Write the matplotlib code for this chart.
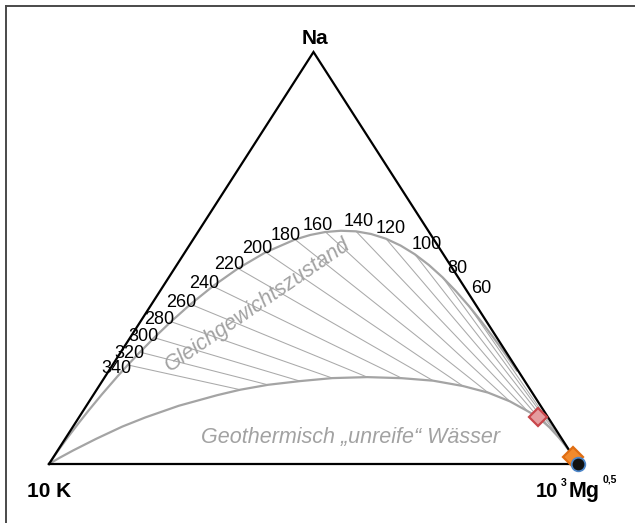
import numpy as np
import matplotlib
matplotlib.use("Agg")
import matplotlib.pyplot as plt
from matplotlib.lines import Line2D

# Na-K-Mg ternary (Giggenbach) diagram: Na/1000 - K/100 - sqrt(Mg)
# Compositions are given in percent of (Na, 10 K, 1000 Mg^0.5)

# full equilibrium line ("Gleichgewichtszustand")
FULL_T = [20, 30, 40, 50, 60, 70, 80, 90, 100, 110, 120, 130, 140, 150, 160, 170,
          180, 200, 220, 240, 260, 280, 300, 320, 340, 360, 400, 450, 500, 600, 800, 1200]
FULL_NA = [22.74, 26.61, 30.56, 34.50, 38.34, 41.93, 45.31, 48.30, 50.90, 53.01, 54.69,
           55.82, 56.47, 56.61, 56.32, 55.59, 54.49, 51.39, 47.46, 43.15, 38.78, 34.55,
           30.66, 27.15, 24.04, 21.30, 16.85, 12.81, 9.98, 6.48, 3.39, 1.54]
FULL_K = [0.23, 0.39, 0.63, 0.97, 1.45, 2.10, 2.95, 4.04, 5.39, 7.02, 8.96, 11.19,
          13.72, 16.52, 19.57, 22.82, 26.24, 33.35, 40.53, 47.45, 53.86, 59.67, 64.78,
          69.23, 73.08, 76.38, 81.61, 86.22, 89.39, 93.21, 96.50, 98.43]
FULL_MG = [77.03, 73.00, 68.81, 64.53, 60.21, 55.97, 51.74, 47.66, 43.71, 39.96, 36.36,
           32.99, 29.81, 26.87, 24.11, 21.59, 19.27, 15.26, 12.00, 9.40, 7.36, 5.78,
           4.56, 3.61, 2.88, 2.32, 1.54, 0.97, 0.64, 0.31, 0.11, 0.03]

# lower boundary of the immature waters, one point per isotherm
PART_T = [20, 40, 60, 80, 100, 120, 140, 160, 180, 200, 220, 240, 260, 280, 300, 320,
          340, 360, 400, 450, 500, 600, 800, 1200]
PART_NA = [2.18, 3.16, 4.61, 6.55, 8.88, 11.36, 12.86, 15.22, 17.33, 18.93, 20.22, 20.83,
           21.09, 20.85, 20.12, 19.22, 18.03, 16.70, 14.13, 11.31, 9.10, 6.12, 3.30, 1.50]
PART_K = [0.02, 0.06, 0.17, 0.43, 0.94, 1.86, 3.13, 5.29, 8.34, 12.29, 17.27, 22.90,
          29.30, 36.00, 42.50, 49.01, 54.83, 59.87, 68.41, 76.12, 81.56, 88.01, 93.77, 97.26]
PART_MG = [97.80, 96.78, 95.22, 93.02, 90.18, 86.78, 84.01, 79.49, 74.33, 68.78, 62.51,
           56.27, 49.61, 43.15, 37.38, 31.77, 27.14, 23.43, 17.46, 12.57, 9.34, 5.87,
           2.93, 1.24]

# labelled isotherms (deg C)
ISO_T = [60, 80, 100, 120, 140, 160, 180, 200, 220, 240, 260, 280, 300, 320, 340]

# water samples (Na, 10K, 1000 sqrt(Mg) in percent)
SAMPLE_NA = [11.4, 1.8, 0.0]
SAMPLE_K = [1.8, 0.0, 0.0]
SAMPLE_MG = [86.8, 98.2, 100.0]

W, H = 635, 523
fig = plt.figure(figsize=(W / 100, H / 100), dpi=100)
fig.patch.set_facecolor("white")
ax = fig.add_axes([0, 0, 1, 1])
ax.axis("off")
# K vertex at pixel (49, 464), Mg at (578, 464), Na apex at (313.5, 52)
ax.set_xlim(-49 / 529, (W - 49) / 529)
ax.set_ylim(-(H - 464) / 412, 464 / 412)

plt.rcParams["font.family"] = ["Liberation Sans", "DejaVu Sans"]


def tern(na, k, mg):
    na = np.asarray(na, float)
    k = np.asarray(k, float)
    mg = np.asarray(mg, float)
    s = na + k + mg
    return (mg + na / 2) / s, na / s


def fxy(px, py):
    return px / W, 1 - py / H


CURVE = "#a4a4a4"
ISO = "#a9a9a9"
TXT_GREY = "#a2a2a2"

# isotherms between the two curves
full_idx = {t: i for i, t in enumerate(FULL_T)}
part_idx = {t: i for i, t in enumerate(PART_T)}
for t in ISO_T:
    i, j = full_idx[t], part_idx[t]
    xs, ys = tern([FULL_NA[i], PART_NA[j]], [FULL_K[i], PART_K[j]], [FULL_MG[i], PART_MG[j]])
    ax.plot(xs, ys, color=ISO, lw=0.75, zorder=2, solid_capstyle="butt")

# full equilibrium curve, closed to the K corner
fx, fy = tern(FULL_NA + [0], FULL_K + [100], FULL_MG + [0])
ax.plot(fx, fy, color=CURVE, lw=1.6, zorder=3, solid_joinstyle="round")

# immature-water boundary from Mg corner to K corner
px_, py_ = tern([0] + PART_NA + [0], [0] + PART_K + [100], [100] + PART_MG + [0])
ax.plot(px_, py_, color=CURVE, lw=1.6, zorder=3, solid_joinstyle="round")

# triangle
tx, ty = tern([0, 0, 100, 0], [100, 0, 0, 100], [0, 100, 0, 0])
ax.plot(tx, ty, color="black", lw=1.6, zorder=4, solid_joinstyle="miter")

# isotherm labels: (ha, dx, dy) offsets in pixels from the curve point
LABEL_POS = {
    340: ("right", 4, -8), 320: ("right", 5, -6), 300: ("right", 4, -3.5),
    280: ("right", 3, -2), 260: ("right", 6, -2.5), 240: ("right", 6, -2),
    220: ("right", 6, -0.5), 200: ("right", 7, -1), 180: ("right", 6, 0),
    160: ("right", 7, 1.5), 140: ("center", 2.5, 5.5), 120: ("center", 4.5, 5.5),
    100: ("center", 12, 5.5), 80: ("center", 15, 4.5), 60: ("center", 12, 13.5),
}
for t in ISO_T:
    i = full_idx[t]
    x, y = tern(FULL_NA[i], FULL_K[i], FULL_MG[i])
    ha, dx, dy = LABEL_POS[t]
    ax.annotate(str(t), xy=(x, y), xytext=(dx, dy), textcoords="offset pixels",
                ha=ha, va="baseline", fontsize=13, color="black", zorder=6)

# samples
sx, sy = tern(SAMPLE_NA, SAMPLE_K, SAMPLE_MG)
ax.plot(sx[0], sy[0], marker="D", ms=9.6, mfc="#e59c9f", mec="#c9464b", mew=1.6,
        ls="none", zorder=7)
ax.plot(sx[1], sy[1], marker="D", ms=10.2, mfc="#f28a2c", mec="#e06d12", mew=1.6,
        ls="none", zorder=7)
ax.plot(sx[2], sy[2], marker="o", ms=9.8, mfc="#111111", mec="#4d86c8", mew=1.3,
        ls="none", zorder=8)

# curve names
fig.text(*fxy(258, 305), "Gleichgewichtszustand", rotation=34.5, rotation_mode="anchor",
         ha="center", va="center", fontsize=15.5, style="italic", color=TXT_GREY)
fig.text(*fxy(350.5, 443.5), "Geothermisch \u201eunreife\u201c W\u00e4sser", ha="center",
         va="baseline", fontsize=15.5, style="italic", color=TXT_GREY)

# corner labels
fig.text(*fxy(315, 43.5), "Na", ha="center", va="baseline", fontsize=15, weight="bold")
fig.text(*fxy(49.5, 497), "10 K", ha="center", va="baseline", fontsize=15, weight="bold")
fig.text(*fxy(535.5, 497), "10", ha="left", va="baseline", fontsize=14.5, weight="bold")
fig.text(*fxy(560.5, 486.5), "3", ha="left", va="baseline", fontsize=7.5, weight="bold")
fig.text(*fxy(569, 496.5), "Mg", ha="left", va="baseline", fontsize=15.5, weight="bold")
fig.text(*fxy(603, 483), "0,5", ha="left", va="baseline", fontsize=7.5, weight="bold")

# frame
fig.add_artist(Line2D([5.5 / W, 1], [1 - 5.5 / H, 1 - 5.5 / H], transform=fig.transFigure,
                      color="#4a4a4a", lw=1.4))
fig.add_artist(Line2D([5.5 / W, 5.5 / W], [0, 1 - 5.5 / H], transform=fig.transFigure,
                      color="#4a4a4a", lw=1.4))

fig.savefig("out.png", dpi=100, facecolor="white")
